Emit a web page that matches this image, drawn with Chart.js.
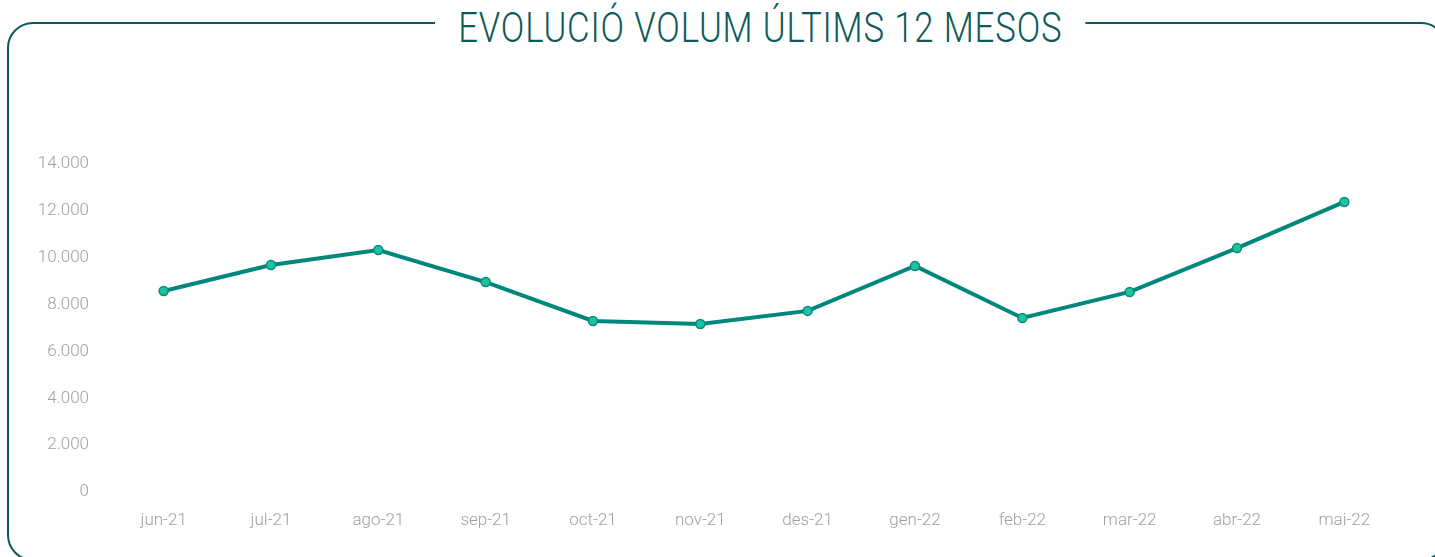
<!DOCTYPE html>
<html>
<head>
<meta charset="utf-8">
<script src="https://cdn.jsdelivr.net/npm/chart.js@4"></script>
<style>
  html, body { margin:0; padding:0; background:#fff; overflow:hidden; }
  #wrap { position:relative; width:1435px; height:557px; }
  #frame { position:absolute; left:7px; top:22px; width:1436px; height:535px; border:2px solid #0e5a58; border-radius:26px; }
  #title { position:absolute; top:4px; left:0; white-space:nowrap; font-family:Roboto, "Noto Sans", sans-serif; font-weight:300; font-size:42px; color:#0e5a58; background:#fff; padding:0 28px; letter-spacing:1px; transform-origin:left top; line-height:48px; }
  canvas { position:absolute; left:0; top:0; }
</style>
</head>
<body>
<div id="wrap">
  <div id="frame"></div>
  <div id="title">EVOLUCIÓ VOLUM ÚLTIMS 12 MESOS</div>
  <canvas id="c" width="1435" height="557"></canvas>
</div>
<script>
const categories = ["jun-21","jul-21","ago-21","sep-21","oct-21","nov-21","des-21","gen-22","feb-22","mar-22","abr-22","mai-22"];
const volum = [8580, 9690, 10330, 8960, 7300, 7170, 7730, 9650, 7430, 8540, 10410, 12380];
const yTicks = [0, 2000, 4000, 6000, 8000, 10000, 12000, 14000];

// fit title to reference width (text span ~458..1062)
(function(){
  const t = document.getElementById('title');
  const pad = 28;
  const targetText = 604;
  const w = t.offsetWidth - 2*pad;
  const s = targetText / w;
  t.style.transform = 'scaleX(' + s + ')';
  const total = (t.offsetWidth) * s;
  t.style.left = (760 - total/2) + 'px';
})();

function fmt(v){ return v.toString().replace(/\B(?=(\d{3})+(?!\d))/g, '.'); }

new Chart(document.getElementById('c'), {
  type: 'line',
  data: {
    labels: categories,
    datasets: [{
      data: volum,
      borderColor: '#00877d',
      borderWidth: 4,
      pointRadius: 4.5,
      pointBackgroundColor: '#1bc3a0',
      pointBorderColor: '#0b8a7c',
      pointBorderWidth: 1.5,
      tension: 0,
      clip: false
    }]
  },
  options: {
    responsive: false,
    animation: false,
    layout: { padding: { left: 0, right: 37, top: 164, bottom: 0 } },
    plugins: { legend: { display: false }, tooltip: { enabled: false }, title: { display: false } },
    scales: {
      x: {
        offset: true,
        grid: { display: false, drawTicks: false },
        border: { display: false },
        ticks: { color: '#a0a0a0', font: { family: 'Roboto', weight: '300', size: 17 }, padding: 19, maxRotation: 0 },
        afterFit: s => { s.height = 65; }
      },
      y: {
        min: 0, max: 14000,
        grid: { display: false, drawTicks: false },
        border: { display: false },
        afterBuildTicks: s => { s.ticks = yTicks.map(v => ({ value: v })); },
        ticks: { color: '#a0a0a0', font: { family: 'Roboto', weight: '300', size: 17 }, padding: 21, callback: v => fmt(v) },
        afterFit: s => { s.width = 110; }
      }
    }
  }
});
</script>
</body>
</html>
